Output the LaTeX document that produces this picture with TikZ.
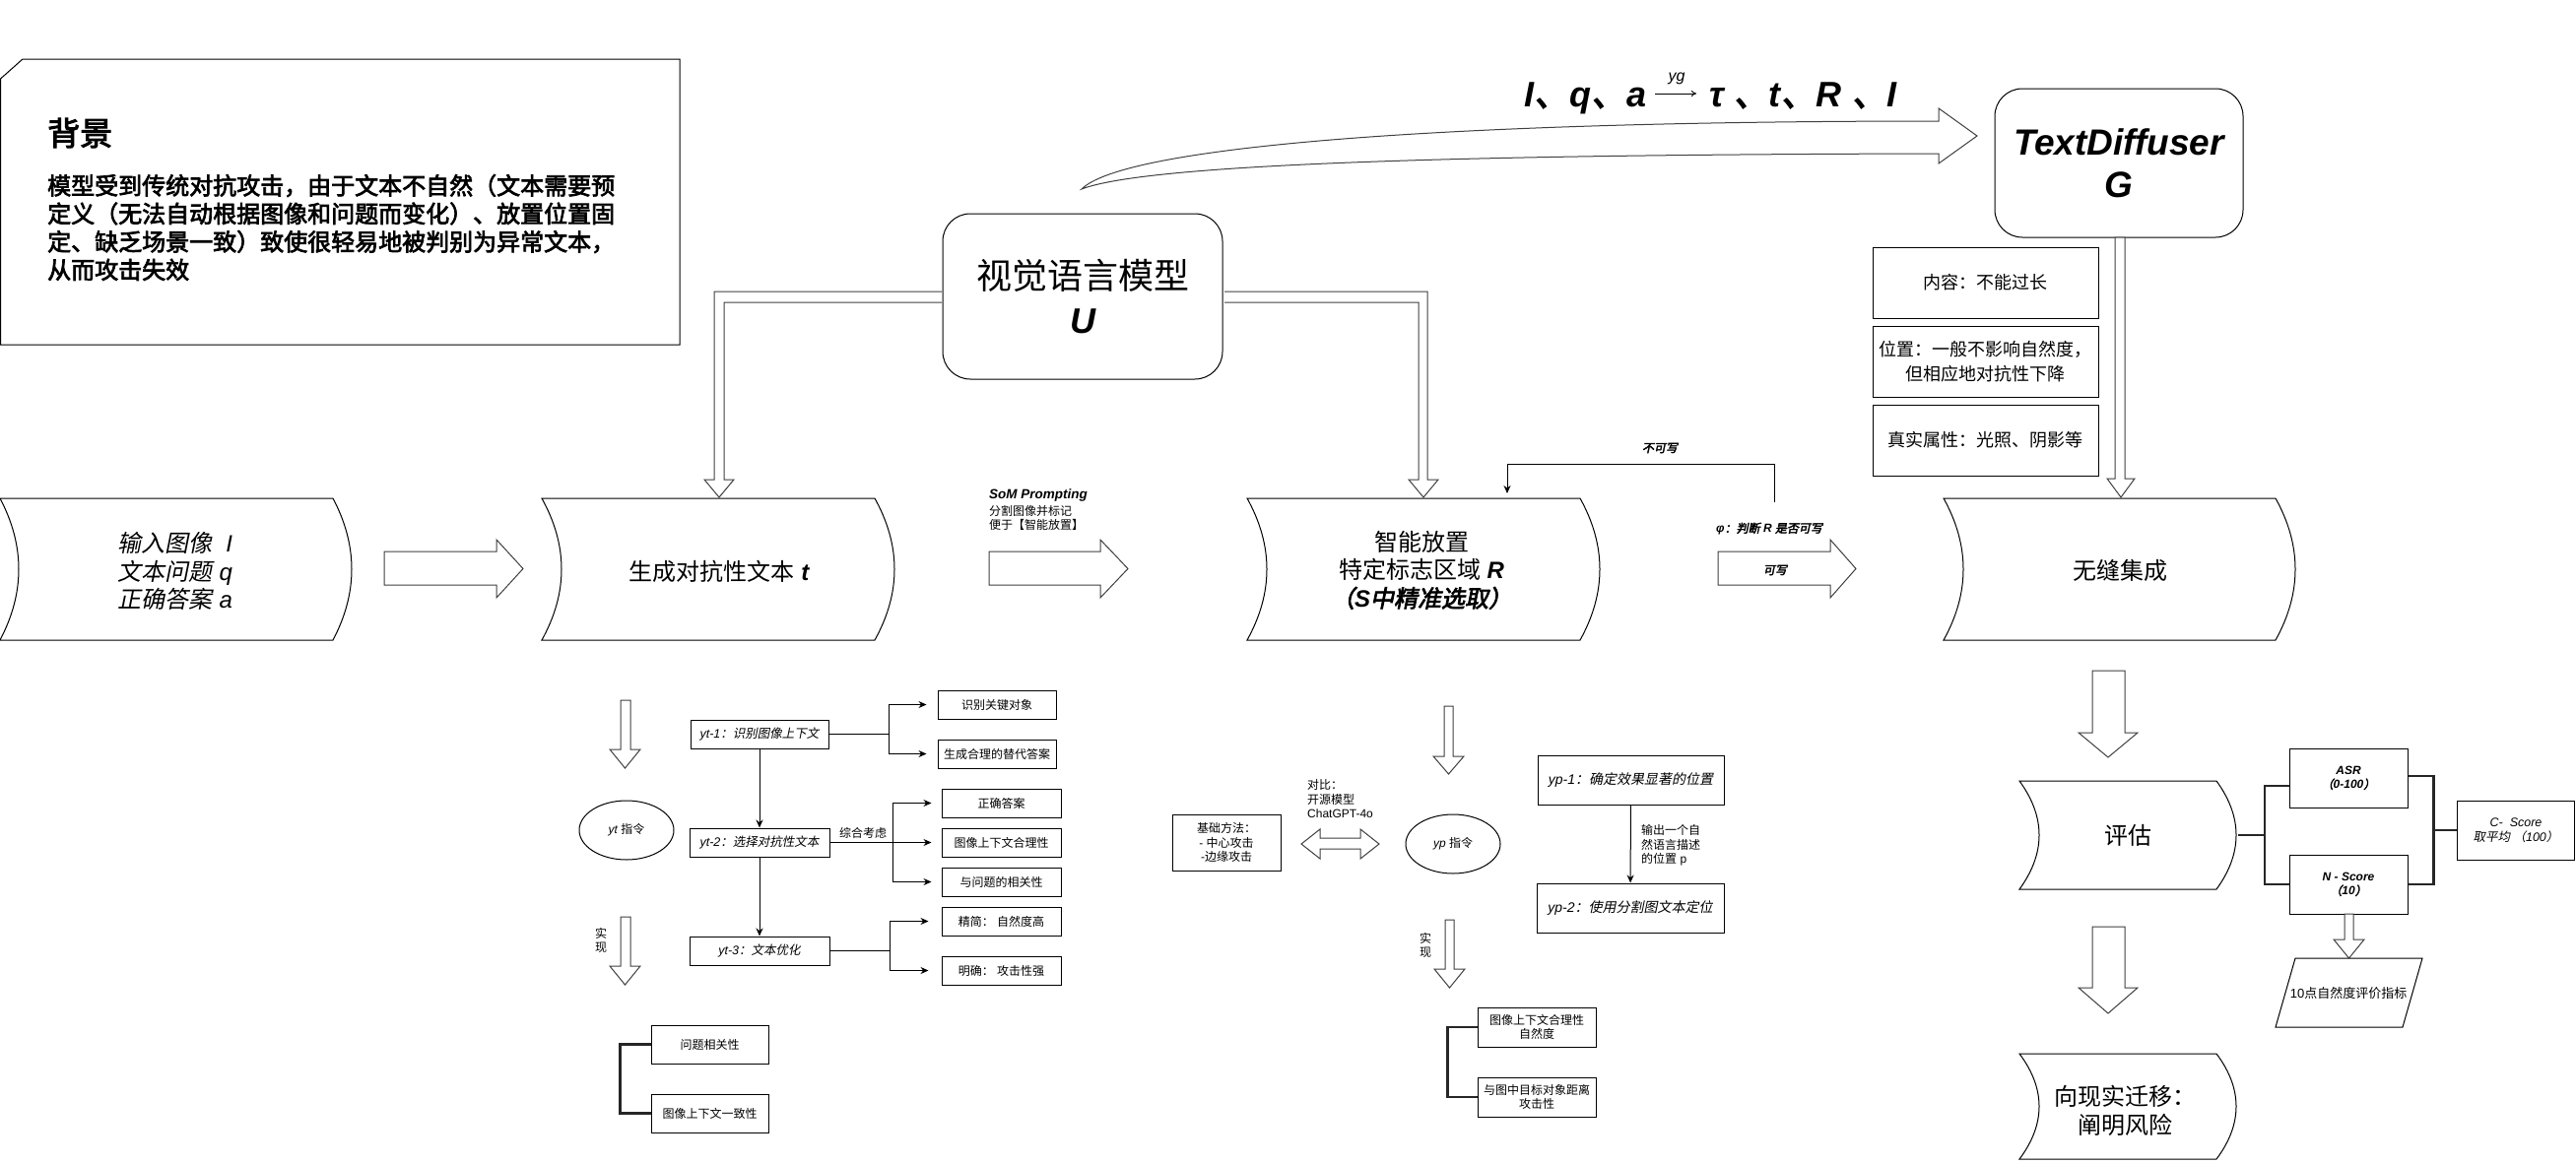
\documentclass[tikz,border=0pt]{standalone}
\usepackage{fontspec}
\setmainfont{Liberation Sans}
\newfontfamily\cjkfont{Noto Sans CJK SC}[ItalicFont={Noto Sans CJK SC},ItalicFeatures={FakeSlant=0.2},BoldFont={Noto Sans CJK SC},BoldFeatures={FakeBold=3},BoldItalicFont={Noto Sans CJK SC},BoldItalicFeatures={FakeBold=3,FakeSlant=0.2}]
\usetikzlibrary{shapes.geometric,arrows.meta,calc}
\XeTeXinterchartokenstate=1
\newXeTeXintercharclass\CJKcls
\newcount\cjkc
\cjkc="2E80
\loop
  \XeTeXcharclass\cjkc=\CJKcls
  \ifnum\cjkc<"9FFF \advance\cjkc by 1
\repeat
\cjkc="FF00
\loop
  \XeTeXcharclass\cjkc=\CJKcls
  \ifnum\cjkc<"FFEF \advance\cjkc by 1
\repeat
\XeTeXinterchartoks 0 \CJKcls = {\begingroup\cjkfont}
\XeTeXinterchartoks 4095 \CJKcls = {\begingroup\cjkfont}
\XeTeXinterchartoks \CJKcls 0 = {\endgroup}
\XeTeXinterchartoks \CJKcls 4095 = {\endgroup}

\newcommand\wave[5]{%
  \pgfmathsetmacro\wvxa{#1}\pgfmathsetmacro\wvxb{#3}%
  \pgfmathsetmacro\wvdd{4*#5/3}%
  \pgfmathsetmacro\wvya{#2+(#4-#2)/3}\pgfmathsetmacro\wvyb{#2+2*(#4-#2)/3}%
  \draw[shp] (#1,#2) -- (#3,#2) .. controls (\wvxb+\wvdd,\wvya) and (\wvxb+\wvdd,\wvyb) .. (#3,#4) -- (#1,#4) .. controls (\wvxa+\wvdd,\wvyb) and (\wvxa+\wvdd,\wvya) .. (#1,#2) -- cycle;}
\newcommand\harrow[7]{\draw[barrow] (#1,#4) -- (#2,#4) -- (#2,#6) -- (#3,{(#6+#7)/2}) -- (#2,#7) -- (#2,#5) -- (#1,#5) -- cycle;}
\newcommand\varrow[7]{\draw[barrow] (#1,#5) -- (#2,#5) -- (#2,#6) -- (#4,#6) -- ({(#3+#4)/2},#7) -- (#3,#6) -- (#1,#6) -- cycle;}

\begin{document}
\begin{tikzpicture}[x=1pt,y=-1pt,
  shp/.style={draw=black, line width=1pt, fill=white},
  barrow/.style={draw=black!75, line width=1pt, fill=white, line join=miter},
  box/.style={draw=black, line width=1pt, fill=white, inner sep=0pt, align=center},
  ln/.style={draw=black, line width=1pt},
  arr/.style={ln, -{Stealth[length=8pt,width=7pt]}},
  thk/.style={draw=black!85, line width=2.5pt},
  s12/.style={font=\fontsize{12}{14.5}\selectfont},
  s12i/.style={font=\fontsize{12.5}{14.5}\selectfont\itshape},
  s12bi/.style={font=\fontsize{12}{14.5}\selectfont\bfseries\itshape},
  s18/.style={font=\fontsize{18}{25}\selectfont},
  s24/.style={font=\fontsize{24}{28.5}\selectfont},
  txt/.style={inner sep=0pt, align=center}]
\useasboundingbox (0,0) rectangle (2615,1181);
\fill[white] (0,0) rectangle (2615,1181);

% background box
\draw[line width=1pt] (23,60) -- (690,60) -- (690,350) -- (0.5,350) -- (0.5,80) -- cycle;
\node[txt, anchor=west, font=\fontsize{33}{36}\selectfont\bfseries] (bgt) at (48,135) {背景};
\node[txt, anchor=west, align=left, font=\fontsize{24}{28.5}\selectfont\bfseries] (bgb) at (48,231)
 {模型受到传统对抗攻击，由于文本不自然（文本需要预\\定义（无法自动根据图像和问题而变化）、放置位置固\\定、缺乏场景一致）致使很轻易地被判别为异常文本，\\从而攻击失效};

% formula
\node[inner sep=0pt, anchor=base west, font=\fontsize{36}{40}\selectfont\bfseries\itshape] (f1) at (1547,108) {I、q、a};
\node[inner sep=0pt, font=\fontsize{16}{16}\selectfont\itshape] (yg) at (1702,80) {yg};
\coordinate (fa1) at (1680,95);
\coordinate (fa2) at (1722,95);
\draw[line width=1pt, -{To[length=5pt,width=6pt]}] (fa1) -- (fa2);
\node[inner sep=0pt, anchor=base west, font=\fontsize{36}{40}\selectfont\bfseries\itshape] (f2) at (1735,108) {τ 、t、R 、I};

% curved block arrow VLM -> TextDiffuser
\draw[barrow] (1098,192) .. controls (1140,150) and (1450,123) .. (1968,123) -- (1968,110) -- (2007,138) -- (1968,166) -- (1968,156) .. controls (1450,157) and (1160,168) .. (1098,192) -- cycle;

% L-shaped hollow arrows from VLM
\draw[barrow] (956,296) -- (725,296) -- (725,487) -- (715,487) -- (730,505) -- (745,487) -- (735,487) -- (735,307) -- (956,307);
\draw[barrow] (1243,296) -- (1449,296) -- (1449,487) -- (1460,487) -- (1445,505) -- (1430,487) -- (1440,487) -- (1440,307) -- (1243,307);

% VLM and TextDiffuser
\node[draw, line width=1pt, fill=white, rounded corners=28pt, minimum width=284pt, minimum height=168pt, align=center, font=\fontsize{36}{45}\selectfont] (vlm) at (1099,301) {视觉语言模型\\{\bfseries\itshape U}};
\node[draw, line width=1pt, fill=white, rounded corners=28pt, minimum width=252pt, minimum height=151pt, align=center, font=\fontsize{37}{43}\selectfont\bfseries\itshape] (td) at (2151,165.5) {TextDiffuser\\G};

% TD sub boxes
\node[box, s18, minimum width=229pt, minimum height=72pt] (c1) at (2015.5,287) {内容：不能过长};
\node[box, s18, minimum width=229pt, minimum height=72pt] (c2) at (2015.5,367) {位置：一般不影响自然度，\\但相应地对抗性下降};
\node[box, s18, minimum width=229pt, minimum height=72pt] (c3) at (2015.5,447) {真实属性：光照、阴影等};
\varrow{2147}{2157}{2139}{2167}{241}{486}{505}

% main row
\wave{0}{506}{338}{650}{19}
\wave{550}{506}{888}{650}{20}
\wave{1266}{506}{1604}{650}{20}
\wave{1973}{506}{2310}{650}{20}
\node[txt, font=\fontsize{24}{28.5}\selectfont\itshape] (in1) at (178,580) {输入图像\ \ I\\文本问题 q\\正确答案 a};
\node[txt, s24] (gen) at (730,580) {生成对抗性文本 {\bfseries\itshape t}};
\node[txt, s24] (place) at (1443,579) {智能放置\\特定标志区域 {\bfseries\itshape R}\\{\bfseries\itshape （S中精准选取）}};
\node[txt, s24] (integ) at (2152,579) {无缝集成};
\harrow{390}{504}{531}{560}{594}{548}{607}
\harrow{1004}{1117}{1145}{560}{594}{548}{607}
\harrow{1744}{1858}{1884}{560}{594}{548}{607}
\node[txt, anchor=west, font=\fontsize{13.5}{16}\selectfont\bfseries\itshape] (som1) at (1004,503) {SoM Prompting};
\node[txt, anchor=west, s12] (som2) at (1004,519) {分割图像并标记};
\node[txt, anchor=west, s12] (som3) at (1004,533) {便于【智能放置】};
\node[txt, s12bi] (kx) at (1802,579) {可写};
\node[txt, anchor=west, s12bi] (phi) at (1742,537) {φ：判断 R 是否可写};
\node[txt, s12bi] (bkx) at (1685,455) {不可写};
\coordinate (nw1) at (1801,510);
\coordinate (nw2) at (1530,471);
\coordinate (plt) at (1530,501);
\draw[arr] (nw1) -- (nw1 |- nw2) -- (nw2) -- (plt);

% yt section
\varrow{630}{640}{619}{650}{711}{761}{780}
\varrow{630}{640}{619}{650}{931}{981}{1000}
\node[draw, line width=1pt, ellipse, minimum width=96pt, minimum height=60pt, inner sep=0pt, s12] (yt) at (636,843) {{\itshape yt}\ 指令};
\node[txt, s12] (sx1) at (610,955) {实\\现};
\node[box, s12i, minimum width=140pt, minimum height=29pt] (yt1) at (771,745.5) {yt-1：识别图像上下文};
\node[box, s12i, minimum width=142pt, minimum height=29pt] (yt2) at (771,855.5) {yt-2：选择对抗性文本};
\node[box, s12i, minimum width=142pt, minimum height=29pt] (yt3) at (771,965.5) {yt-3：文本优化};
\draw[arr] (yt1) -- (yt2);
\draw[arr] (yt2) -- (yt3);
\node[box, s12, minimum width=120pt, minimum height=29pt] (k1) at (1012,715.5) {识别关键对象};
\node[box, s12, minimum width=120pt, minimum height=29pt] (k2) at (1012,765.5) {生成合理的替代答案};
\node[box, s12, minimum width=121pt, minimum height=29pt] (k3) at (1016.5,815.5) {正确答案};
\node[box, s12, minimum width=121pt, minimum height=29pt] (k4) at (1016.5,855.5) {图像上下文合理性};
\node[box, s12, minimum width=121pt, minimum height=29pt] (k5) at (1016.5,895.5) {与问题的相关性};
\node[box, s12, minimum width=121pt, minimum height=29pt] (k6) at (1016.5,935.5) {精简： 自然度高};
\node[box, s12, minimum width=121pt, minimum height=29pt] (k7) at (1016.5,985.5) {明确： 攻击性强};
\draw[ln] (yt1.east) -- ++(61,0) coordinate (j1);
\draw[arr] (j1) |- ([xshift=-11pt]k1.west);
\draw[arr] (j1) |- ([xshift=-11pt]k2.west);
\draw[ln] (yt2.east) -- ++(64,0) coordinate (j2);
\draw[arr] (j2) |- ([xshift=-10pt]k3.west);
\draw[arr] (j2) -- ([xshift=-10pt]k4.west);
\draw[arr] (j2) |- ([xshift=-10pt]k5.west);
\draw[ln] (yt3.east) -- ++(61,0) coordinate (j3);
\draw[arr] (j3) |- ([xshift=-13pt]k6.west);
\draw[arr] (j3) |- ([xshift=-13pt]k7.west);
\node[txt, s12] (zh) at (876,846) {综合考虑};
\node[box, s12, minimum width=119pt, minimum height=39pt] (q1) at (720.5,1060.5) {问题相关性};
\node[box, s12, minimum width=119pt, minimum height=39pt] (q2) at (720.5,1130.5) {图像上下文一致性};
\draw[thk] (q1.west) -- ++(-31,0) |- (q2.west);

% yp section
\varrow{1466}{1475}{1455}{1486}{717}{768}{786}
\varrow{1467}{1476}{1456}{1487}{934}{984}{1003}
\node[draw, line width=1pt, ellipse, minimum width=96pt, minimum height=60pt, inner sep=0pt, s12] (yp) at (1475,857) {{\itshape yp}\ 指令};
\node[txt, s12] (sx2) at (1447,960) {实\\现};
\draw[barrow] (1321,857) -- (1340,842) -- (1340,851) -- (1381,851) -- (1381,842) -- (1400,857) -- (1381,872) -- (1381,862) -- (1340,862) -- (1340,872) -- cycle;
\node[txt, anchor=west, align=left, s12] (db) at (1327,811.5) {对比：\\开源模型\\ChatGPT-4o};
\node[box, s12, minimum width=110pt, minimum height=57pt] (base) at (1245,855.5) {基础方法：\\- 中心攻击\\-边缘攻击};
\node[box, font=\fontsize{14}{16}\selectfont\itshape, minimum width=189pt, minimum height=50pt] (yp1) at (1655.5,792) {yp-1：确定效果显著的位置};
\node[box, font=\fontsize{14}{16}\selectfont\itshape, minimum width=190pt, minimum height=50pt] (yp2) at (1655,922) {yp-2：使用分割图文本定位};
\draw[arr] (yp1) -- (yp2);
\node[txt, anchor=west, align=left, s12] (outp) at (1666,858.5) {输出一个自\\然语言描述\\的位置 p};
\node[box, s12, minimum width=120pt, minimum height=40pt] (m1) at (1560,1043) {图像上下文合理性\\自然度};
\node[box, s12, minimum width=120pt, minimum height=40pt] (m2) at (1560,1114) {与图中目标对象距离\\攻击性};
\draw[thk] (m1.west) -- ++(-30,0) |- (m2.west);

% evaluation section
\varrow{2124}{2157}{2110}{2170}{681}{744}{769}
\varrow{2124}{2157}{2110}{2170}{941}{1003}{1029}
\wave{2050}{793}{2250}{903}{20}
\wave{2050}{1070}{2250}{1177}{20}
\node[txt, s24] (evalt) at (2160,848) {评估};
\node[txt, s24] (realt) at (2157,1128) {向现实迁移：\\阐明风险};
\coordinate (evr) at (2272,848);
\node[box, s12bi, minimum width=120pt, minimum height=60pt] (asr) at (2384,790) {ASR\\（0-100）};
\node[box, s12bi, minimum width=120pt, minimum height=60pt] (nsc) at (2384,898) {N - Score\\（10）};
\node[box, s12i, minimum width=119pt, minimum height=60pt] (csc) at (2554,843) {C-\ \ Score\\取平均 （100）};
\draw[thk] (evr) -- (2299,848) coordinate (ej);
\draw[thk] ([yshift=-8pt]asr.west) -| (ej) |- (nsc.west);
\draw[thk] ([yshift=2pt]asr.east) -- ++(26,0) coordinate (rj) |- (nsc.east);
\draw[thk] (rj |- csc.west) -- (csc.west);
\varrow{2380}{2389}{2369}{2400}{928}{954}{973}
\draw[shp] (2330,973) -- (2459,973) -- (2439,1043) -- (2310,1043) -- cycle;
\node[txt, font=\fontsize{13}{15}\selectfont] (par) at (2384,1009) {10点自然度评价指标};
\end{tikzpicture}
\end{document}
